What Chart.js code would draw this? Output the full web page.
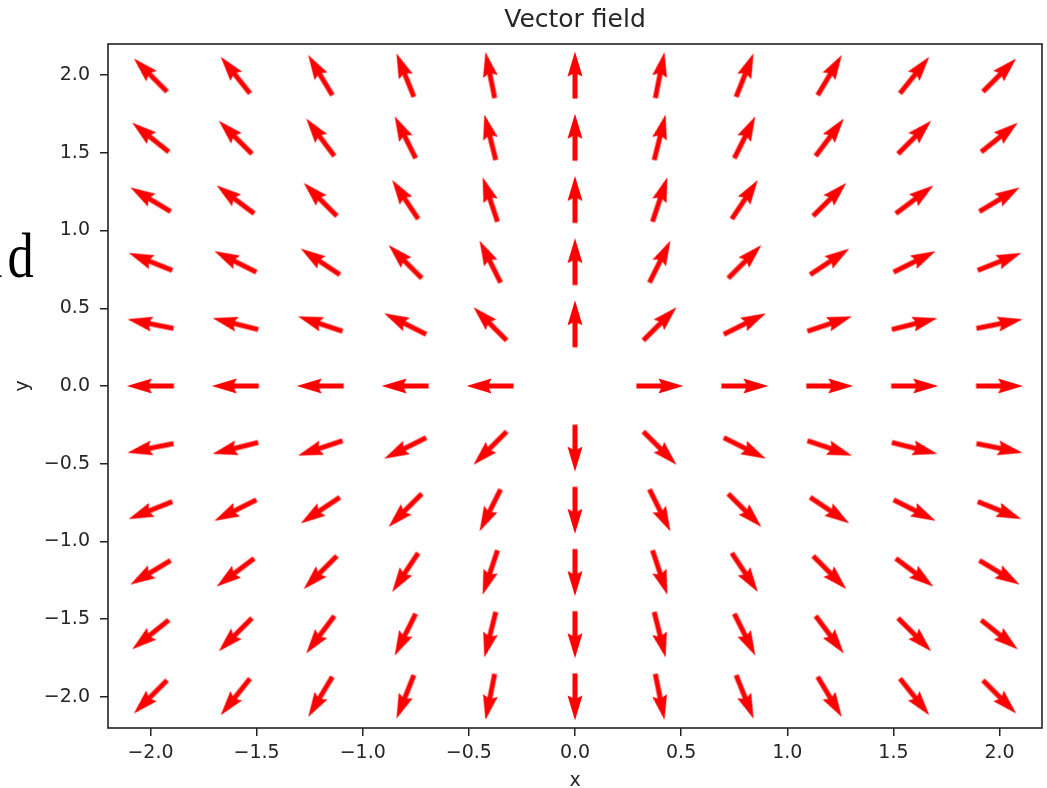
<!DOCTYPE html>
<html>
<head>
<meta charset="utf-8">
<title>Vector field</title>
<script src="https://cdn.jsdelivr.net/npm/chart.js@4.4.1/dist/chart.umd.min.js"></script>
<style>
    body { margin: 0; background: #fff; overflow: hidden; }
    #wrap { position: relative; width: 1047px; height: 788px; }
    #cut { position: absolute; right: 1013px; top: 224px; font-family: "Liberation Serif", serif; font-size: 64px; line-height: 1; color: #000; transform: scaleX(0.82); transform-origin: right center; white-space: nowrap; }
    #cut span { margin-right: 6px; }
</style>
</head>
<body>
<div id="wrap">
    <canvas id="quiver" width="1047" height="788"></canvas>
    <div id="cut"><span>l</span>d</div>
</div>
<script>
// grid positions of the arrows
const gridX = [-2.0, -1.6, -1.2, -0.8, -0.4, 0.0, 0.4, 0.8, 1.2, 1.6, 2.0];
const gridY = [-2.0, -1.6, -1.2, -0.8, -0.4, 0.0, 0.4, 0.8, 1.2, 1.6, 2.0];

// field components, one row per gridY value
const fieldU = [
    [-2.0, -1.6, -1.2, -0.8, -0.4, 0.0, 0.4, 0.8, 1.2, 1.6, 2.0],
    [-2.0, -1.6, -1.2, -0.8, -0.4, 0.0, 0.4, 0.8, 1.2, 1.6, 2.0],
    [-2.0, -1.6, -1.2, -0.8, -0.4, 0.0, 0.4, 0.8, 1.2, 1.6, 2.0],
    [-2.0, -1.6, -1.2, -0.8, -0.4, 0.0, 0.4, 0.8, 1.2, 1.6, 2.0],
    [-2.0, -1.6, -1.2, -0.8, -0.4, 0.0, 0.4, 0.8, 1.2, 1.6, 2.0],
    [-2.0, -1.6, -1.2, -0.8, -0.4, 0.0, 0.4, 0.8, 1.2, 1.6, 2.0],
    [-2.0, -1.6, -1.2, -0.8, -0.4, 0.0, 0.4, 0.8, 1.2, 1.6, 2.0],
    [-2.0, -1.6, -1.2, -0.8, -0.4, 0.0, 0.4, 0.8, 1.2, 1.6, 2.0],
    [-2.0, -1.6, -1.2, -0.8, -0.4, 0.0, 0.4, 0.8, 1.2, 1.6, 2.0],
    [-2.0, -1.6, -1.2, -0.8, -0.4, 0.0, 0.4, 0.8, 1.2, 1.6, 2.0],
    [-2.0, -1.6, -1.2, -0.8, -0.4, 0.0, 0.4, 0.8, 1.2, 1.6, 2.0]
];
const fieldV = [
    [-2.0, -2.0, -2.0, -2.0, -2.0, -2.0, -2.0, -2.0, -2.0, -2.0, -2.0],
    [-1.6, -1.6, -1.6, -1.6, -1.6, -1.6, -1.6, -1.6, -1.6, -1.6, -1.6],
    [-1.2, -1.2, -1.2, -1.2, -1.2, -1.2, -1.2, -1.2, -1.2, -1.2, -1.2],
    [-0.8, -0.8, -0.8, -0.8, -0.8, -0.8, -0.8, -0.8, -0.8, -0.8, -0.8],
    [-0.4, -0.4, -0.4, -0.4, -0.4, -0.4, -0.4, -0.4, -0.4, -0.4, -0.4],
    [0.0, 0.0, 0.0, 0.0, 0.0, 0.0, 0.0, 0.0, 0.0, 0.0, 0.0],
    [0.4, 0.4, 0.4, 0.4, 0.4, 0.4, 0.4, 0.4, 0.4, 0.4, 0.4],
    [0.8, 0.8, 0.8, 0.8, 0.8, 0.8, 0.8, 0.8, 0.8, 0.8, 0.8],
    [1.2, 1.2, 1.2, 1.2, 1.2, 1.2, 1.2, 1.2, 1.2, 1.2, 1.2],
    [1.6, 1.6, 1.6, 1.6, 1.6, 1.6, 1.6, 1.6, 1.6, 1.6, 1.6],
    [2.0, 2.0, 2.0, 2.0, 2.0, 2.0, 2.0, 2.0, 2.0, 2.0, 2.0]
];

const xTicks = [-2.0, -1.5, -1.0, -0.5, 0.0, 0.5, 1.0, 1.5, 2.0];
const yTicks = [-2.0, -1.5, -1.0, -0.5, 0.0, 0.5, 1.0, 1.5, 2.0];

const points = [];
gridY.forEach((y, i) => {
    gridX.forEach((x, j) => {
        points.push({ x: x, y: y, u: fieldU[i][j], v: fieldV[i][j] });
    });
});

// arrow sprite pointing right, pivot in the middle
function makeArrow() {
    const size = 52, L = 47, w = 5;
    const c = document.createElement('canvas');
    c.width = size;
    c.height = size;
    const g = c.getContext('2d');
    const cx = size / 2, cy = size / 2;
    const tail = cx - L / 2, tip = cx + L / 2;
    g.fillStyle = '#ff0000';
    g.beginPath();
    g.moveTo(tail, cy - w / 2);
    g.lineTo(tip - 4.5 * w, cy - w / 2);
    g.lineTo(tip - 5 * w, cy - 1.5 * w);
    g.lineTo(tip, cy);
    g.lineTo(tip - 5 * w, cy + 1.5 * w);
    g.lineTo(tip - 4.5 * w, cy + w / 2);
    g.lineTo(tail, cy + w / 2);
    g.closePath();
    g.fill();
    return c;
}
const arrow = makeArrow();

const textColor = '#262626';
const lineColor = '#222';
const tickFont = { family: 'DejaVu Sans', size: 19 };

function fmt(v) {
    return (v < 0 ? '\u2212' : '') + Math.abs(v).toFixed(1);
}

// frame round the plot area, like the matplotlib spines
const frame = {
    id: 'frame',
    afterDraw(chart) {
        const a = chart.chartArea, ctx = chart.ctx;
        ctx.save();
        ctx.strokeStyle = lineColor;
        ctx.lineWidth = 1.6;
        ctx.strokeRect(a.left, a.top, a.right - a.left, a.bottom - a.top);
        ctx.restore();
    }
};

new Chart(document.getElementById('quiver'), {
    type: 'scatter',
    data: {
        datasets: [{
            data: points,
            pointStyle: arrow,
            radius: ctx => (ctx.raw && (ctx.raw.u !== 0 || ctx.raw.v !== 0)) ? 3 : 0,
            rotation: ctx => ctx.raw ? -Math.atan2(ctx.raw.v, ctx.raw.u) * 180 / Math.PI : 0
        }]
    },
    options: {
        responsive: false,
        animation: false,
        events: [],
        layout: { padding: { left: 0, right: 3, top: 0, bottom: 0 } },
        plugins: {
            legend: { display: false },
            tooltip: { enabled: false },
            title: {
                display: true,
                fullSize: false,
                text: 'Vector field',
                color: textColor,
                font: { family: 'DejaVu Sans', size: 25, weight: 'normal' },
                padding: { top: 5, bottom: 9 }
            }
        },
        scales: {
            x: {
                type: 'linear',
                min: -2.2,
                max: 2.2,
                afterBuildTicks: s => { s.ticks = xTicks.map(v => ({ value: v })); },
                afterFit: s => { s.height = 60; },
                ticks: { color: textColor, font: tickFont, padding: 6, maxRotation: 0, callback: fmt },
                grid: { drawOnChartArea: false, tickLength: 8, color: lineColor, lineWidth: 1.5 },
                border: { display: false },
                title: { display: true, text: 'x', color: textColor, font: tickFont, padding: { top: 0, bottom: -4 } }
            },
            y: {
                type: 'linear',
                min: -2.2,
                max: 2.2,
                afterBuildTicks: s => { s.ticks = yTicks.map(v => ({ value: v })); },
                afterFit: s => { s.width = 108; },
                ticks: { color: textColor, font: tickFont, padding: 10, callback: fmt },
                grid: { drawOnChartArea: false, tickLength: 8, color: lineColor, lineWidth: 1.5 },
                border: { display: false },
                title: { display: true, text: 'y', color: textColor, font: tickFont, padding: { top: 12, bottom: 0 } }
            }
        }
    },
    plugins: [frame]
});
</script>
</body>
</html>
